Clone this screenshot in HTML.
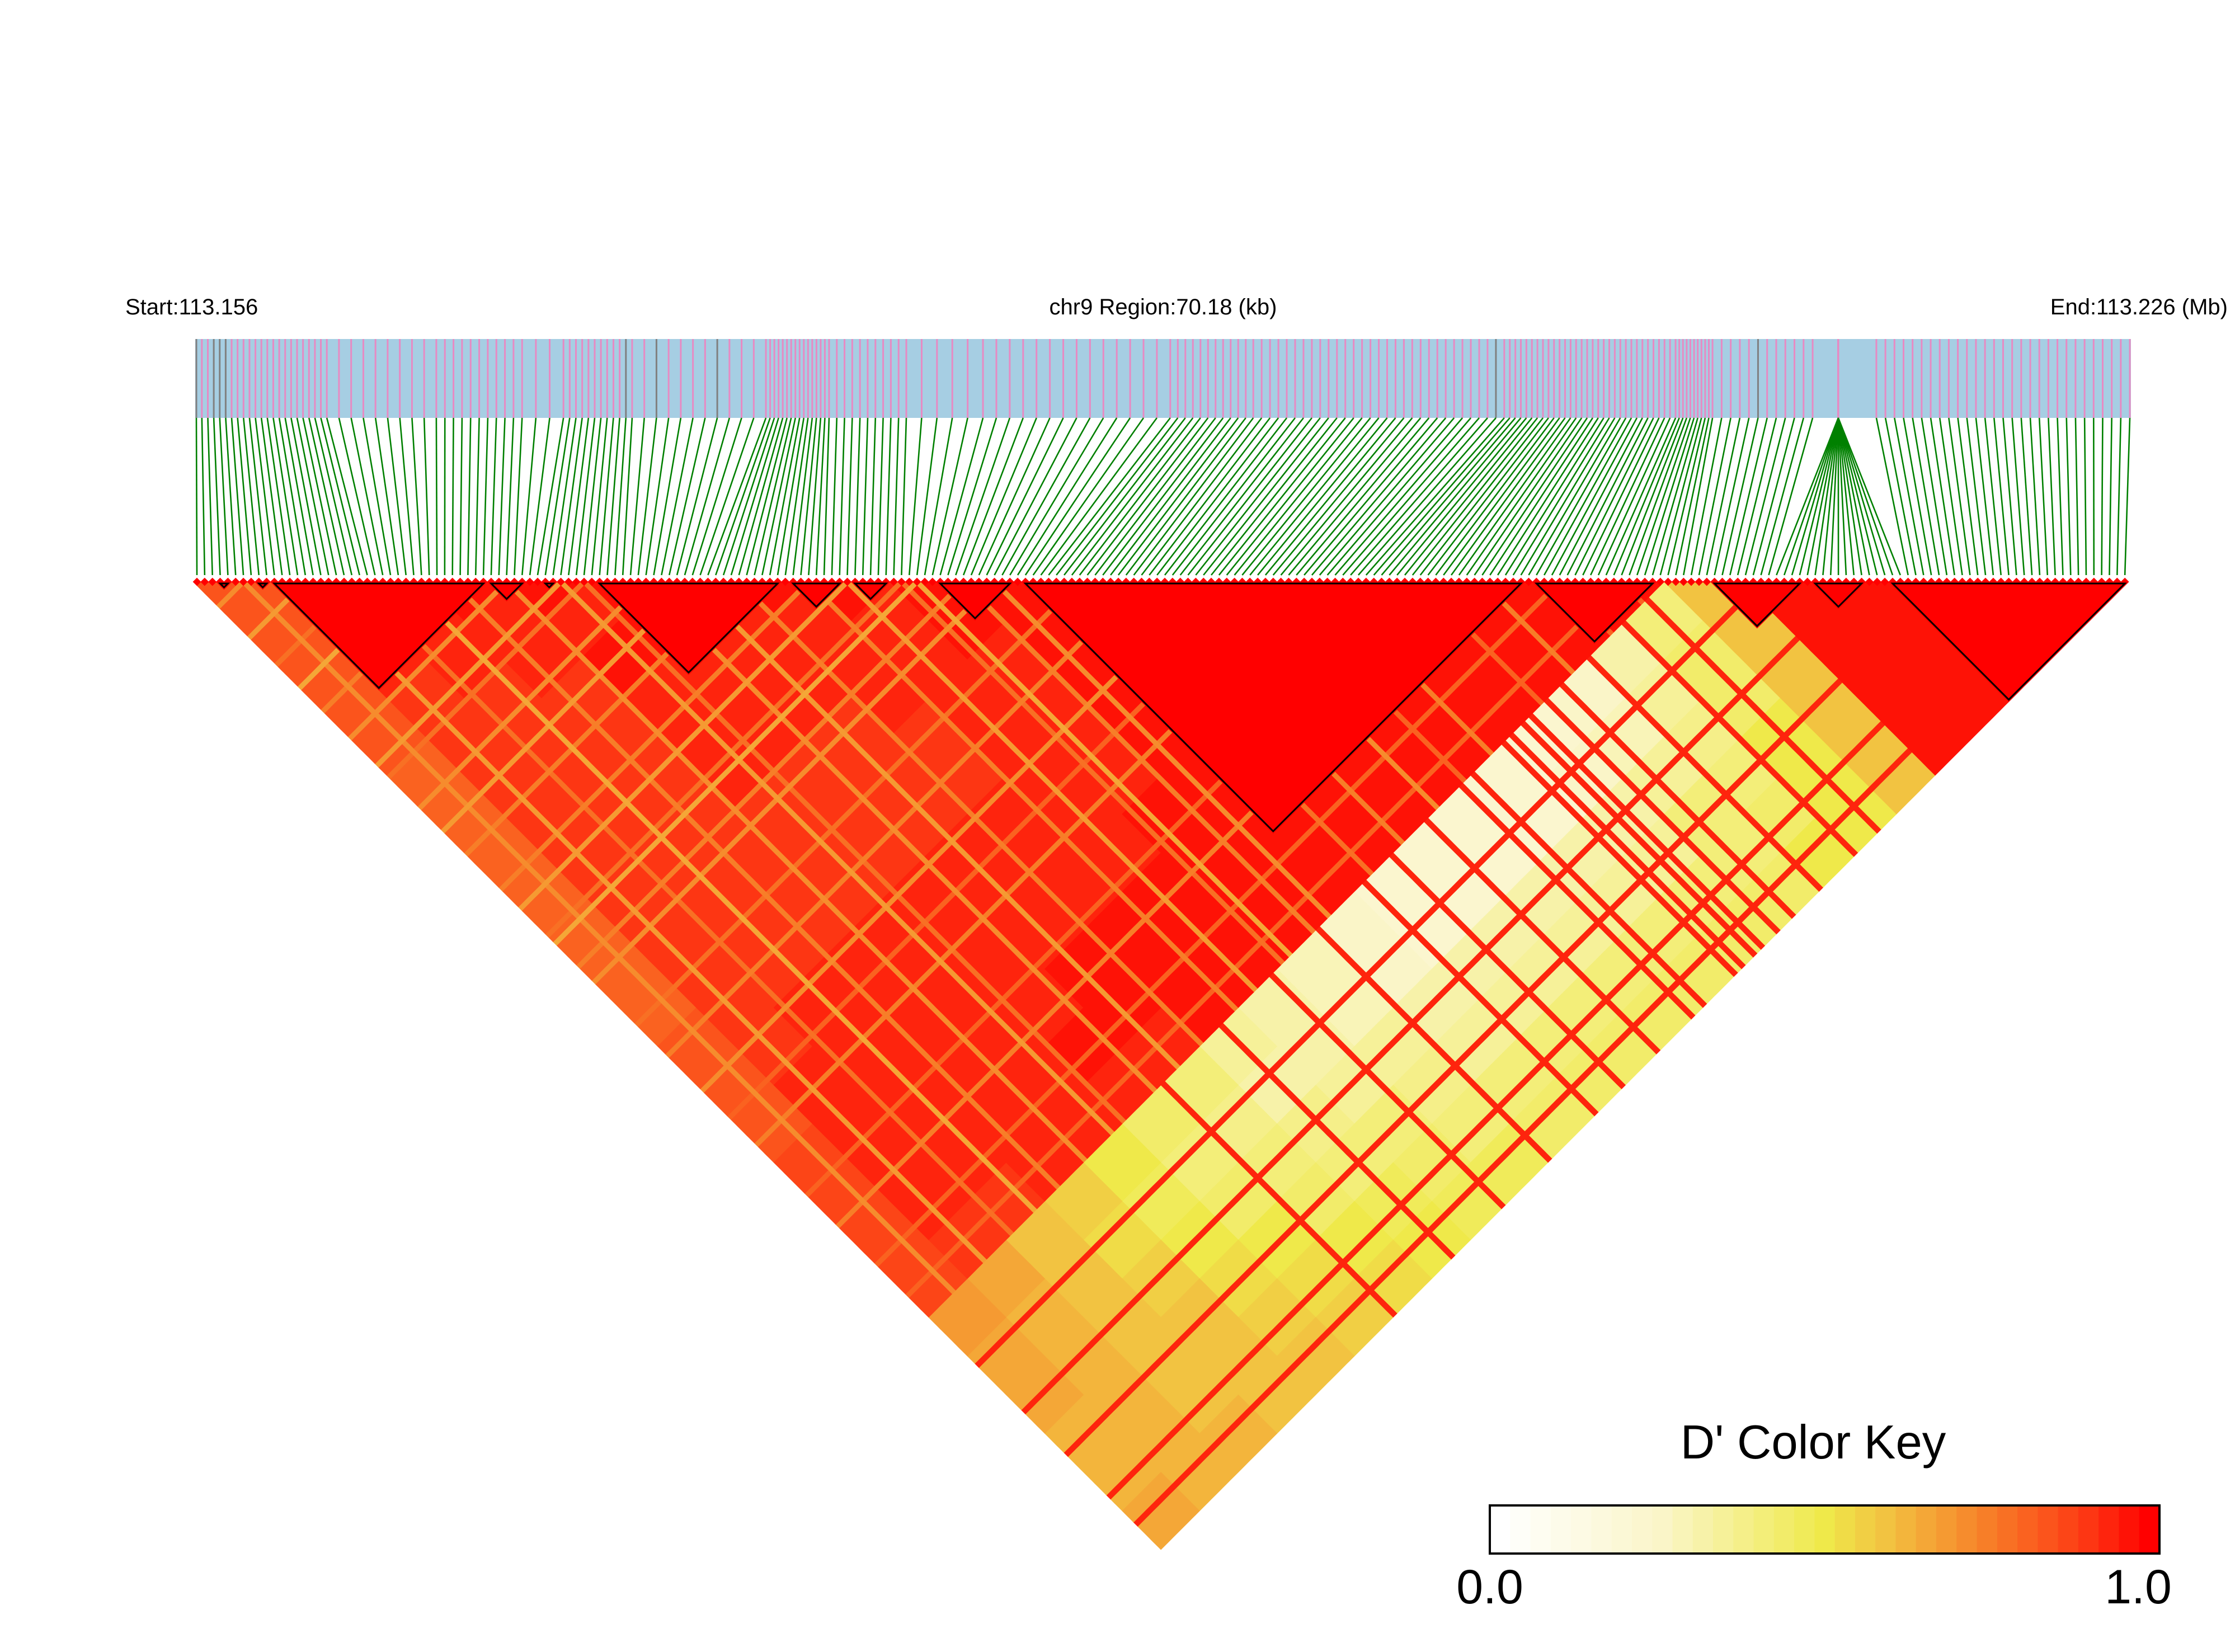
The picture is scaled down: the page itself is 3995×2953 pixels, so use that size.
<!DOCTYPE html>
<html><head><meta charset="utf-8">
<style>
html,body{margin:0;padding:0;background:#fff;}
svg{display:block;}
text{font-family:"Liberation Sans",Arial,sans-serif;fill:#000;}
</style></head>
<body>
<svg id="chart" xmlns="http://www.w3.org/2000/svg" width="3995" height="2953" viewBox="0 0 3995 2953">
  <text x="224" y="562" font-size="40">Start:113.156</text>
  <text x="2079" y="562" font-size="40" text-anchor="middle">chr9 Region:70.18 (kb)</text>
  <text x="3982" y="562" font-size="40" text-anchor="end">End:113.226 (Mb)</text>
  <rect x="349" y="606" width="3460" height="141" fill="#a6cee3"/>
  <g id="snpTicks"></g>
  <g id="connectors"></g>
  <g id="cells"></g>
  <g id="blocks"></g>
  <text x="3241" y="2607" font-size="85" text-anchor="middle">D' Color Key</text>
  <g id="key"></g>
  <text x="2663" y="2866" font-size="86" text-anchor="middle">0.0</text>
  <text x="3822" y="2866" font-size="86" text-anchor="middle">1.0</text>
</svg>
<script>
// ---- data ----
const nSnps = 250;
// SNP index -> physical position anchors (kb from region start)
const posAnchorIdx = [0,1,22,31,41,44,55,66,81,91,96,110,121,151,182,192,203,204,220,221,249];
const posAnchorKb  = [0.04,0.24,4.77,8.74,11.85,13.35,15.84,20.69,22.98,25.78,28.56,35.35,38.36,47.46,53.67,55.01,58.64,59.57,59.57,60.95,70.14];
const graySnps = [0,3,4,5,54,57,62,150,197];
// Block-averaged D' (groups of 10 SNPs), row a lists groups b = a..24
const groupDprime = [
 [.85,.85,.84,.83,.83,.82,.82,.82,.82,.82,.82,.82,.83,.84,.85,.86,.88,.88,.86,.68,.66,.66,.64,.64,.65],
 [.97,.96,.93,.91,.9,.9,.9,.9,.9,.9,.9,.91,.92,.93,.94,.94,.93,.92,.66,.64,.63,.62,.62,.64],
 [.97,.95,.93,.92,.91,.91,.91,.91,.91,.91,.92,.93,.94,.94,.95,.94,.92,.6,.58,.58,.6,.6,.62],
 [.97,.95,.93,.92,.92,.92,.92,.92,.92,.92,.93,.94,.95,.95,.95,.94,.55,.52,.55,.58,.6,.6],
 [.96,.95,.97,.94,.93,.93,.92,.92,.92,.93,.94,.95,.95,.95,.95,.5,.48,.5,.52,.55,.58],
 [.97,.98,.95,.94,.93,.92,.92,.92,.93,.94,.95,.95,.96,.95,.45,.42,.45,.5,.52,.55],
 [.98,.95,.94,.93,.92,.92,.92,.93,.94,.95,.96,.96,.95,.4,.38,.42,.45,.5,.52],
 [.97,.95,.94,.93,.92,.92,.93,.94,.95,.96,.96,.96,.35,.32,.38,.42,.47,.5],
 [.97,.95,.94,.93,.93,.94,.95,.95,.96,.97,.97,.3,.3,.35,.4,.45,.48],
 [.97,.96,.95,.95,.95,.95,.96,.97,.97,.97,.28,.28,.33,.38,.42,.46],
 [.98,.97,.97,.97,.97,.97,.97,.97,.97,.25,.25,.3,.35,.4,.45],
 [.98,.98,.98,.98,.98,.98,.98,.98,.22,.22,.3,.35,.4,.45],
 [.98,.98,.98,.98,.98,.98,.98,.22,.22,.3,.35,.4,.45],
 [.98,.98,.98,.98,.98,.98,.22,.22,.3,.35,.4,.45],
 [.98,.98,.98,.98,.98,.22,.22,.3,.35,.4,.45],
 [.98,.98,.98,.98,.22,.25,.3,.35,.4,.45],
 [.98,.98,.98,.25,.28,.33,.4,.4,.45],
 [.98,.98,.3,.33,.38,.4,.45,.5],
 [.98,.4,.45,.45,.5,.5,.5],
 [.6,.6,.6,.6,.6,.6],
 [.97,.97,.97,.97,.97],
 [.97,.97,.97,.97],
 [.97,.97,.97],
 [.97,.97],
 [.97]
];
// LD blocks (SNP index ranges)
const blockStart = [3,8,10,38,45,52,77,85,96,107,173,196,209,219];
const blockEnd   = [4,9,37,42,46,75,83,89,105,171,188,207,215,249];
// SNPs whose pairs appear as red stripes inside the low-LD region
const strongI = [60,75,88,100,112,119,128,137,140,148,150,153,155,159,163,170,179,185];
const strongJ = [202,214,225,236,243];
// SNPs whose pairs appear as yellow/orange streaks inside the high-LD region
const weakSnps = [6,14,21,27,33,40,47,50,58,64,70,79,84,91,93,99,103,114,122,131,138,145,158,166,176,184];
const weakCap  = [.72,.7,.78,.66,.75,.72,.68,.78,.72,.68,.76,.75,.7,.78,.66,.74,.72,.78,.76,.72,.8,.74,.8,.76,.82,.8];
const keyBins = 33;

// ---- geometry ----
const NS='http://www.w3.org/2000/svg';
const s = 13.84, cx0 = 352, cy0 = 1040;
const bandL = 349, bandW = 3460, regionKb = 70.18;
function posX(kb){ return bandL + kb/regionKb*bandW; }
function snpKb(i){
  for(let k=0;k<posAnchorIdx.length-1;k++){
    const a=posAnchorIdx[k], b=posAnchorIdx[k+1];
    if(i>=a && i<=b){ return posAnchorKb[k] + (b===a?0:(i-a)/(b-a))*(posAnchorKb[k+1]-posAnchorKb[k]); }
  }
  return posAnchorKb[posAnchorKb.length-1];
}
function diagX(i){ return cx0 + i*s; }
const stops=[[0,[255,255,255]],[0.25,[250,245,200]],[0.5,[239,233,74]],[0.6,[242,192,64]],[0.75,[247,126,40]],[0.9,[253,58,20]],[1,[255,0,0]]];
function color(v){
  v=Math.max(0,Math.min(1,v));
  for(let k=0;k<stops.length-1;k++){
    const [a,ca]=stops[k],[b,cb]=stops[k+1];
    if(v<=b){const t=(v-a)/(b-a);return 'rgb('+ca.map((c,m)=>Math.round(c+(cb[m]-c)*t)).join(',')+')';}
  }
  return 'rgb(255,0,0)';
}
function blockOf(i){ for(let k=0;k<blockStart.length;k++){ if(i>=blockStart[k]&&i<=blockEnd[k]) return k; } return -1; }
function dprime(i,j){
  const a=Math.floor(i/10), b=Math.floor(j/10);
  let v = groupDprime[a][b-a];
  const bi=blockOf(i);
  if(bi>=0 && bi===blockOf(j)) return 0.99;
  if(v<0.8){
    if(strongI.indexOf(i)>=0 || strongJ.indexOf(j)>=0) v=0.95;
  } else {
    let k=weakSnps.indexOf(i); if(k>=0) v=Math.min(v,weakCap[k]);
    k=weakSnps.indexOf(j); if(k>=0) v=Math.min(v,weakCap[k]);
  }
  return v;
}

// ---- SNP ticks & connectors ----
const ticks=document.getElementById('snpTicks'), conn=document.getElementById('connectors');
for(let i=0;i<nSnps;i++){
  const tx=posX(snpKb(i));
  const t=document.createElementNS(NS,'line');
  t.setAttribute('x1',tx);t.setAttribute('x2',tx);t.setAttribute('y1',606);t.setAttribute('y2',747);
  t.setAttribute('stroke',graySnps.indexOf(i)>=0?'#808080':'#e78ac3');t.setAttribute('stroke-width',3);
  
  
  ticks.appendChild(t);
  const l=document.createElementNS(NS,'line');
  l.setAttribute('x1',tx);l.setAttribute('y1',747);l.setAttribute('x2',diagX(i));l.setAttribute('y2',1028);
  l.setAttribute('stroke','#008000');l.setAttribute('stroke-width',2.6);
  
  
  conn.appendChild(l);
}

// ---- heatmap cells (grouped by colour bin) ----
const paths=new Array(keyBins).fill('');
const h=s/2+0.5;
for(let i=0;i<nSnps;i++){
  for(let j=i;j<nSnps;j++){
    const v = (i===j)?1:dprime(i,j);
    const bin=Math.round(v*(keyBins-1));
    const x=cx0+(i+j)/2*s, y=cy0+(j-i)/2*s;
    paths[bin]+='M'+x.toFixed(1)+' '+(y-h).toFixed(1)+'L'+(x+h).toFixed(1)+' '+y.toFixed(1)+'L'+x.toFixed(1)+' '+(y+h).toFixed(1)+'L'+(x-h).toFixed(1)+' '+y.toFixed(1)+'Z';
  }
}
const cells=document.getElementById('cells');
paths.forEach((d,b)=>{
  if(!d) return;
  const p=document.createElementNS(NS,'path');
  p.setAttribute('d',d);p.setAttribute('fill',color(b/(keyBins-1)));
  
  
  cells.appendChild(p);
});

// ---- LD block outlines ----
const blocks=document.getElementById('blocks');
for(let k=0;k<blockStart.length;k++){
  const xa=diagX(blockStart[k]), xb=diagX(blockEnd[k]), yt=1043;
  const p=document.createElementNS(NS,'path');
  p.setAttribute('d','M'+xa+' '+yt+'L'+xb+' '+yt+'L'+((xa+xb)/2)+' '+(yt+(xb-xa)/2)+'Z');
  p.setAttribute('fill','none');p.setAttribute('stroke','#000');p.setAttribute('stroke-width',3);
  
  
  blocks.appendChild(p);
}

// ---- colour key ----
const key=document.getElementById('key');
const kx=2663, kw=1197, ky=2691, kh=86;
for(let b=0;b<keyBins;b++){
  const r=document.createElementNS(NS,'rect');
  r.setAttribute('x',kx+b*kw/keyBins);r.setAttribute('y',ky);
  r.setAttribute('width',kw/keyBins+0.6);r.setAttribute('height',kh);
  r.setAttribute('fill',color(b/(keyBins-1)));
  
  
  key.appendChild(r);
}
const fr=document.createElementNS(NS,'rect');
fr.setAttribute('x',kx);fr.setAttribute('y',ky);fr.setAttribute('width',kw);fr.setAttribute('height',kh);
fr.setAttribute('fill','none');fr.setAttribute('stroke','#000');fr.setAttribute('stroke-width',4);


key.appendChild(fr);
</script>
</body></html>
